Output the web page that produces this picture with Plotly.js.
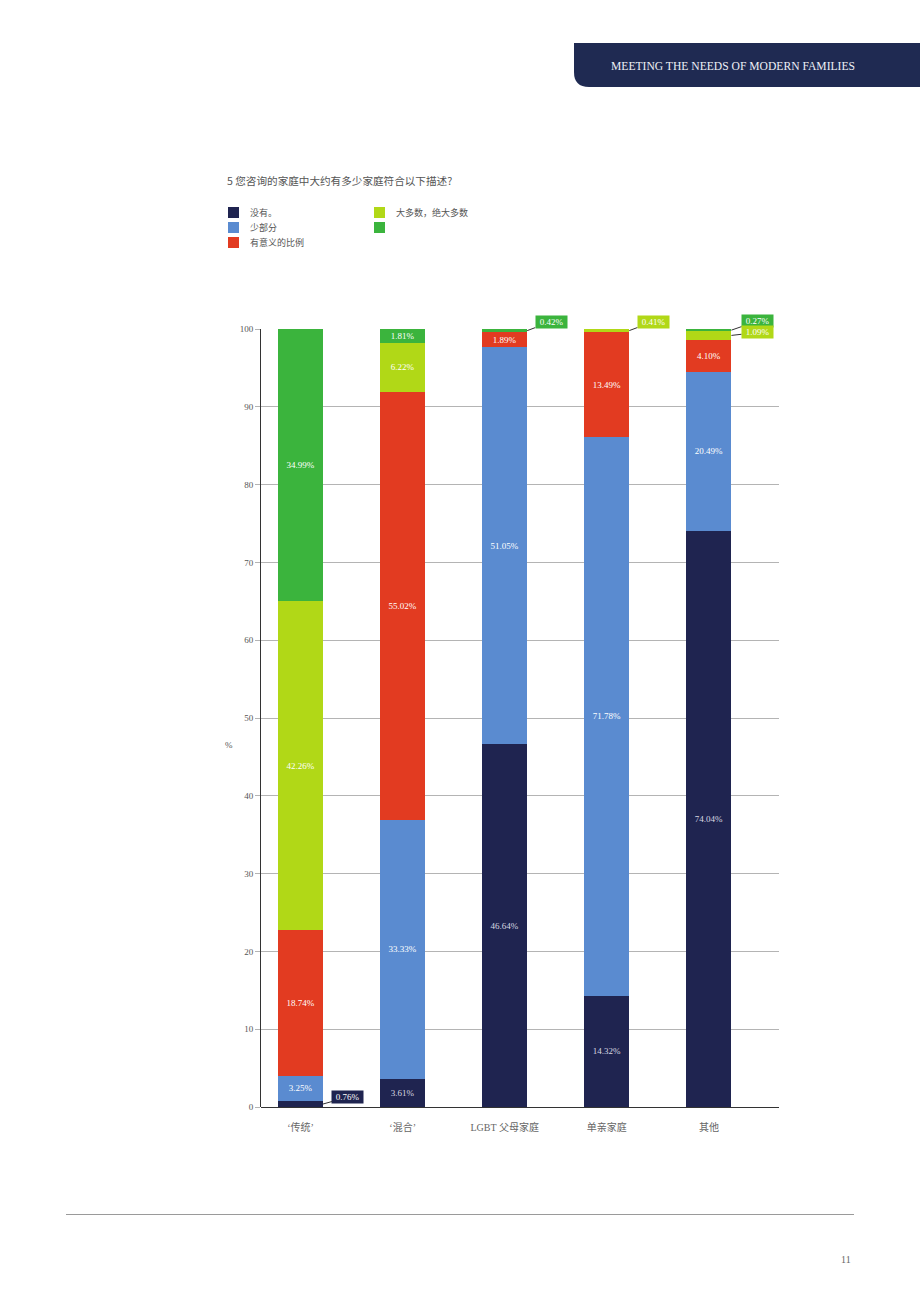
<!DOCTYPE html>
<html>
<head>
<meta charset="utf-8">
<script src="https://cdn.plot.ly/plotly-3.0.1.min.js"></script>
<style>html,body{margin:0;padding:0;background:#fff;}#chart{width:920px;height:1302px;}</style>
</head>
<body>
<div id="chart"></div>
<script>
// ---- data ----
const categories = ["‘传统’", "‘混合’", "LGBT 父母家庭", "单亲家庭", "其他"];
const seriesNames = ["没有。", "少部分", "有意义的比例", "大多数，绝大多数", ""];
const seriesColors = ["#1f2450", "#5a8bd0", "#e23b21", "#b1d817", "#3bb43d"];
const noneVals     = [0.76, 3.61, 46.64, 14.32, 74.04];
const fewVals      = [3.25, 33.33, 51.05, 71.78, 20.49];
const meaningVals  = [18.74, 55.02, 1.89, 13.49, 4.10];
const mostVals     = [42.26, 6.22, 0, 0.41, 1.09];
const allVals      = [34.99, 1.81, 0.42, 0, 0.27];
const seriesVals = [noneVals, fewVals, meaningVals, mostVals, allVals];
// segments labelled by an outside callout: [series index, category index, dx, dy]
const callouts = [[0,0,25,-7],[4,2,24,-9],[3,3,24,-9],[4,4,26,-9],[3,4,26,-3]];
const titleText = "5 您咨询的家庭中大约有多少家庭符合以下描述?";
const headerText = "MEETING THE NEEDS OF MODERN FAMILIES";
const pageNum = "11";

// ---- geometry helpers (pixel -> paper) ----
const L = 261, R = 779, T = 329, B = 1107;
const px = x => (x - L) / (R - L);
const py = y => (B - y) / (B - T);
const serif = "Liberation Serif, Noto Sans CJK SC, serif";
const sans = "Noto Sans CJK SC, Noto Sans, sans-serif";

const isCallout = (s, c) => callouts.some(o => o[0] === s && o[1] === c);

const traces = seriesVals.map((vals, s) => ({
  type: 'bar',
  x: categories,
  y: vals,
  name: seriesNames[s],
  width: 0.44,
  marker: {color: seriesColors[s], line: {width: 0}},
  text: vals.map((v, c) => (v > 0 && !isCallout(s, c)) ? v.toFixed(2) + '%' : ''),
  textposition: 'inside',
  insidetextanchor: 'middle',
  constraintext: 'none',
  textfont: {family: serif, size: 9, color: s === 0 ? '#d8d8e0' : '#ffffff'},
  hoverinfo: 'skip',
  showlegend: false
}));

const annotations = [];
const shapes = [];

// callouts
callouts.forEach(([s, c, dx, dy]) => {
  let base = 0;
  for (let k = 0; k < s; k++) base += seriesVals[k][c];
  const v = seriesVals[s][c];
  annotations.push({
    x: c + 0.22, y: base + v / 2, xref: 'x', yref: 'y',
    text: v.toFixed(2) + '%',
    showarrow: true, arrowhead: 0, arrowwidth: 1, arrowcolor: '#333',
    ax: dx, ay: dy, standoff: 0,
    bgcolor: seriesColors[s], borderpad: 1, width: 29,
    font: {family: serif, size: 9, color: '#ffffff'}
  });
});

// header band
const hx0 = px(574), hx1 = px(920), hy0 = py(43), hy1 = py(87);
const rx = 15 / (R - L), ry = 15 / (B - T);
shapes.push({
  type: 'path', xref: 'paper', yref: 'paper',
  path: `M ${hx0} ${hy0} L ${hx1} ${hy0} L ${hx1} ${hy1} L ${hx0 + rx} ${hy1} Q ${hx0} ${hy1} ${hx0} ${hy1 + ry} Z`,
  fillcolor: '#1f2a52', line: {width: 0}, layer: 'above'
});
annotations.push({
  xref: 'paper', yref: 'paper', x: px(733), y: py(67), xanchor: 'center', yanchor: 'middle',
  text: headerText, showarrow: false, font: {family: serif, size: 11.6, color: '#eef0f6'}
});

// title
annotations.push({
  xref: 'paper', yref: 'paper', x: px(225), y: py(181), xanchor: 'left', yanchor: 'middle',
  text: titleText, showarrow: false, font: {family: sans, size: 10.6, color: '#555555'}
});

// legend
const legPos = [[228, 212.5], [228, 227.5], [228, 242.5], [374, 212.5], [374, 227.5]];
seriesNames.forEach((n, s) => {
  const [lx, ly] = legPos[s];
  shapes.push({
    type: 'rect', xref: 'paper', yref: 'paper',
    x0: px(lx), x1: px(lx + 11), y0: py(ly - 5.5), y1: py(ly + 5.5),
    fillcolor: seriesColors[s], line: {width: 0}
  });
  if (n) annotations.push({
    xref: 'paper', yref: 'paper', x: px(lx + 20), y: py(ly), xanchor: 'left', yanchor: 'middle',
    text: n, showarrow: false, font: {family: sans, size: 9, color: '#555555'}
  });
});

// y axis title
annotations.push({
  xref: 'paper', yref: 'paper', x: px(229), y: py(745), xanchor: 'center', yanchor: 'middle',
  text: '%', showarrow: false, font: {family: serif, size: 9, color: '#555555'}
});

// footer
shapes.push({
  type: 'line', xref: 'paper', yref: 'paper', x0: px(66), x1: px(854), y0: py(1214.5), y1: py(1214.5),
  line: {color: '#9a9a9a', width: 1}
});
annotations.push({
  xref: 'paper', yref: 'paper', x: px(853), y: py(1259), xanchor: 'right', yanchor: 'middle',
  text: pageNum, showarrow: false, font: {family: serif, size: 10, color: '#666666'}
});

const layout = {
  width: 920, height: 1302,
  margin: {l: L, r: 920 - R, t: T, b: 1302 - B, pad: 0},
  paper_bgcolor: '#ffffff', plot_bgcolor: '#ffffff',
  barmode: 'stack',
  showlegend: false,
  xaxis: {
    type: 'category', range: [-0.387, 4.686],
    showgrid: false, zeroline: false, showline: false, ticks: '',
    tickfont: {family: serif, size: 10, color: '#666666'}, ticklabelstandoff: 13
  },
  yaxis: {
    range: [0, 100], dtick: 10, tick0: 0,
    showgrid: true, gridcolor: '#b4b4b4', gridwidth: 1,
    zeroline: true, zerolinecolor: '#333333', zerolinewidth: 1,
    showline: true, linecolor: '#333333', linewidth: 1,
    ticks: 'outside', ticklen: 5, tickcolor: '#b4b4b4',
    tickfont: {family: serif, size: 9, color: '#555555'}
  },
  shapes: shapes,
  annotations: annotations
};

Plotly.newPlot('chart', traces, layout, {displayModeBar: false, staticPlot: true});
</script>
</body>
</html>
